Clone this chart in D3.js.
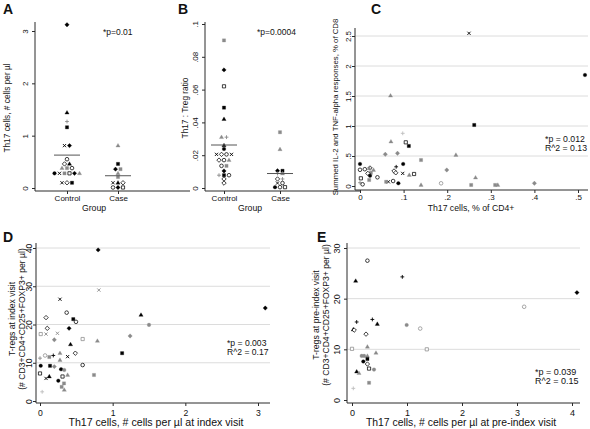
<!DOCTYPE html>
<html><head><meta charset="utf-8">
<script src="https://cdn.jsdelivr.net/npm/d3@7"></script>
<style>
body{margin:0;background:#fff}
svg{display:block}
text{font-family:"Liberation Sans",Arial,Helvetica,sans-serif;fill:#111}
</style>
</head><body>
<svg id="chart" width="590" height="429"></svg>
<script>
// ---------------- DATA ----------------
const groups = ["Control", "Case"];

// Panel A: Th17 cells, # cells per µl
const aControl = [3.12,1.44,1.27,1.16,0.81,0.81,0.55,0.46,0.46,0.38,0.38,0.38,0.28,0.28,0.28,0.28,0.28,0.28,0.10,0.10,0.10];
const aControlSym = ["Df","Tf","Pg","Sf","Xf","Df","Oh","Dh","Tf","Tg","Sg","Oh","Of","Xf","Sg","Sh","Df","Tg","Xf","Dh","Sf"];
const aCase = [0.81,0.46,0.36,0.36,0.28,0.21,0.10,0.10,0.10,0.01,0.01,0.01];
const aCaseSym = ["Tg","Sf","Df","Sg","Tg","Sg","Xf","Tf","Dh","Oh","Df","Sh"];
const aTicks = [0,1,2,3];

// Panel B: Th17 : Treg ratio
const bControl = [0.090,0.072,0.062,0.049,0.042,0.031,0.031,0.026,0.0238,0.0205,0.0205,0.0205,0.0205,0.017,0.017,0.017,0.0135,0.0135,0.0104,0.0078,0.0078,0.0078,0.0055,0.003];
const bControlSym = ["Sg","Df","Sh","Sf","Tf","Tg","Pg","Tf","Of","Xf","Dh","Oh","Xf","Dh","Oh","Tg","Oh","Sg","Df","Pg","Sf","Oh","Dh","Dh"];
const bCase = [0.034,0.0236,0.0105,0.0105,0.0088,0.0088,0.0055,0.0055,0.003,0.003,0.0005,0.0005,0.0005];
const bCaseSym = ["Sg","Tg","Df","Sf","Pg","Tg","Dh","Pg","Xf","Oh","Of","Oh","Sh"];
const bTicks = [0,0.02,0.04,0.06,0.08,0.1];

// Panel C: Th17 % of CD4+ vs summed IL-2 and TNF-alpha responses
const cX = [0.250,0.516,0.070,0.262,0.098,0.071,0.105,0.112,0.058,0.086,0.220,0.140,0.099,0.083,0.199,0.078,0.082,0.098,0.113,0.124,0.265,0.400,0.186,0.140,0.255,0.310,0.316,0.065,0.060,0.076,0.088,0.040,0.025,0.031,0.023,0.000,0.000,0.011,0.021,0.018,0.023,0.002,0.000,0.006,0.021];
const cY = [2.545,1.85,1.505,1.017,0.878,0.74,0.728,0.667,0.528,0.545,0.517,0.433,0.367,0.32,0.267,0.25,0.22,0.21,0.183,0.20,0.14,0.045,0.045,0.017,0.017,0.017,0.017,0.07,0.07,0.083,0.045,0.145,0.22,0.267,0.30,0.367,0.27,0.28,0.295,0.21,0.17,0.128,0.055,0.028,0.10];
const cSym = ["Xf","Of","Tg","Sf","Pl","Tg","Sh","Sf","Dg","Dg","Tg","Sg","Of","Pf","Dg","Dh","Dh","Xf","Tg","Sh","Tg","Dg","Ok","Tg","Sg","Sg","Tg","Xf","Sg","Oh","Of","Oh","Sg","Tg","Dh","Of","Oh","Oh","Tg","Dh","Of","Sh","Pg","Oh","Sg"];
const cXTicks = [0,0.1,0.2,0.3,0.4,0.5];
const cYTicks = [0,0.5,1,1.5,2,2.5];

// Panel D: Th17 at index visit vs T-regs at index visit
const dX = [0.80,0.81,3.10,0.275,0.367,0.083,0.458,0.495,1.39,1.50,0.10,0.40,0.01,0.083,0.24,0.587,1.24,0.197,0.79,0.42,0.486,1.13,0.275,0.0,0.07,0.128,0.183,0.38,0.01,0.138,0.275,0.197,0.587,0.29,0.334,0.0,0.31,0.128,0.083,0.38,0.743,0.252,0.33,0.298,0.334,0.03];
const dY = [39.5,29,24.3,26.6,23.1,21.8,21.4,20.7,22.5,19.9,19.0,19.0,17.5,17.5,17.7,16.2,17.0,16.0,15.7,14.8,12.5,12.5,12.5,11.2,11.9,11.5,11.9,11.6,9.2,9.2,10.7,9.0,9.4,8.3,8.1,7.2,6.4,6.4,5.9,6.8,6.8,5.3,4.6,3.7,2.9,2.4];
const dSym = ["Df","Xg","Df","Xf","Oh","Dh","Sf","Oh","Tf","Og","Dh","Df","Sk","Xg","Xg","Sk","Dg","Dg","Tg","Tf","Dh","Sf","Tg","Pg","Ok","Sg","Pf","Xf","Of","Sf","Tg","Dg","Oh","Of","Og","Sh","Sh","Tf","Xf","Tg","Sg","Of","Sg","Sg","Tg","Pl"];
const dXTicks = [0,1,2,3];
const dYTicks = [0,10,20,30,40];

// Panel E: Th17 at pre-index visit vs T-regs at pre-index visit
const eX = [0.28,0.915,0.067,4.09,3.13,0.37,0.085,0.46,0.994,1.24,0.024,0.04,0.255,0.0,0.28,1.36,0.436,0.176,0.22,0.28,0.206,0.28,0.28,0.31,0.40,0.085,0.127,0.31,0.024];
const eY = [27.5,24.3,23.5,21.2,18.4,15.9,15.4,15.0,14.8,14.1,13.9,13.8,13.0,10.1,10.5,10.0,9.3,8.7,8.7,8.7,7.6,8.1,7.1,6.2,6.0,5.6,5.3,3.4,2.3];
const eSym = ["Oh","Pf","Tf","Df","Ok","Pf","Pf","Tf","Og","Ok","Tf","Dh","Dh","Sk","Tg","Sk","Tg","Og","Og","Tg","Of","Sf","Dh","Sh","Og","Tf","Tg","Sg","Pl"];
const eXTicks = [0,1,2,3,4];
const eYTicks = [0,10,20,30];

// ---------------- DRAWING ----------------
const svg = d3.select("#chart");
svg.append("rect").attr("width",590).attr("height",429).attr("fill","#fff");

const GRAY = "#8a8a8a", LIGHT = "#bdbdbd", AXIS = "#2a2a2a", GRID = "#dcdcdc";
const FONT = '"Liberation Sans",Arial,sans-serif';
const fmt = v => v === 0 ? "0" : d3.format("~g")(v).replace(/^0\./, ".");

function markerPath(shape) {
  const p = d3.path();
  if (shape === "O") { p.arc(0,0,1.8,0,2*Math.PI); }
  else if (shape === "S") { p.rect(-1.6,-1.6,3.2,3.2); }
  else if (shape === "D") { p.moveTo(0,-2.2); p.lineTo(2.2,0); p.lineTo(0,2.2); p.lineTo(-2.2,0); p.closePath(); }
  else if (shape === "T") { p.moveTo(0,-2.2); p.lineTo(2.1,1.4); p.lineTo(-2.1,1.4); p.closePath(); }
  else if (shape === "X") { p.moveTo(-1.6,-1.6); p.lineTo(1.6,1.6); p.moveTo(-1.6,1.6); p.lineTo(1.6,-1.6); }
  else if (shape === "P") { p.moveTo(-1.9,0); p.lineTo(1.9,0); p.moveTo(0,-1.9); p.lineTo(0,1.9); }
  return p.toString();
}
function drawMarker(g, x, y, code) {
  const shape = code[0], st = code[1];
  const col = st === "f" || st === "h" ? "#000" : st === "l" ? LIGHT : GRAY;
  const path = g.append("path").attr("d", markerPath(shape)).attr("transform", `translate(${x},${y})`);
  if (shape === "X" || shape === "P") {
    path.attr("fill","none").attr("stroke",col).attr("stroke-width",0.9);
  } else if (st === "h" || st === "k") {
    path.attr("fill","#fff").attr("stroke",col).attr("stroke-width",0.75);
  } else {
    path.attr("fill",col).attr("stroke",col).attr("stroke-width",0.3);
  }
}

function frame(p) {
  const g = svg.append("g");
  (p.grid || []).forEach(v => {
    g.append("line").attr("x1",p.left+0.5).attr("x2",p.right).attr("y1",p.y(v)).attr("y2",p.y(v))
      .attr("stroke",GRID).attr("stroke-width",1);
  });
  // y axis
  const ya = g.append("g").attr("transform",`translate(${p.left},0)`)
    .call(d3.axisLeft(p.y).tickValues(p.yticks).tickSize(3).tickFormat(fmt));
  ya.select(".domain").remove();
  ya.selectAll(".tick line").attr("stroke",AXIS);
  ya.selectAll("text").attr("x",0).attr("y",-p.ygap).attr("dy",0)
    .attr("transform","rotate(-90)").attr("text-anchor","middle")
    .style("font-size",p.tickFs+"px").style("font-family",FONT).attr("fill","#111");
  // x axis
  const xa = g.append("g").attr("transform",`translate(0,${p.bottom})`)
    .call(d3.axisBottom(p.x).tickValues(p.xticks).tickSize(3).tickFormat(p.xfmt || fmt));
  xa.select(".domain").remove();
  xa.selectAll(".tick line").attr("stroke",AXIS);
  xa.selectAll("text").attr("y",p.xgap).attr("dy",0)
    .style("font-size",p.tickFs+"px").style("font-family",FONT).attr("fill","#111");
  // axis lines
  g.append("line").attr("x1",p.left).attr("x2",p.left).attr("y1",p.top).attr("y2",p.bottom)
    .attr("stroke",AXIS).attr("stroke-width",1);
  g.append("line").attr("x1",p.left).attr("x2",p.right).attr("y1",p.bottom).attr("y2",p.bottom)
    .attr("stroke",AXIS).attr("stroke-width",1);
  // titles
  g.append("text").attr("x",p.xtitleX).attr("y",p.xtitleY).attr("text-anchor","middle")
    .style("font-size",p.xtitleFs+"px").text(p.xtitle);
  p.ytitle.forEach((t,i) => {
    g.append("text").attr("transform",`translate(${p.ytitleX[i]},${p.ytitleCY}) rotate(-90)`)
      .attr("text-anchor","middle").style("font-size", p.ytitleFs+"px").text(t);
  });
  g.append("text").attr("x",p.letterX).attr("y",p.letterY).style("font-size","14px")
    .style("font-weight","bold").attr("fill","#000").text(p.letter);
  p.notes.forEach((t,i) => {
    g.append("text").attr("x",p.noteX).attr("y",p.noteY + i*p.noteFs).style("font-size",p.noteFs+"px").text(t);
  });
  return g;
}

function dotPanel(p, series, syms) {
  const g = frame(p);
  series.forEach((vals, gi) => {
    const cx = p.x(groups[gi]);
    const rows = d3.group(vals.map((v,i)=>({v, s: syms[gi][i]})), d => d.v);
    rows.forEach(items => {
      items.forEach((d,i) => {
        const off = (i - (items.length-1)/2) * p.spacing;
        drawMarker(g, cx + off, p.y(d.v), d.s);
      });
    });
    const m = d3.mean(vals);
    g.append("line").attr("x1",cx-13).attr("x2",cx+13).attr("y1",p.y(m)).attr("y2",p.y(m))
      .attr("stroke","#555").attr("stroke-width",1);
  });
}

function scatterPanel(p, xs, ys, syms) {
  const g = frame(p);
  xs.forEach((xv,i) => drawMarker(g, p.x(xv), p.y(ys[i]), syms[i]));
}

// Panel A
dotPanel({
  left:35, right:190, top:22, bottom:191,
  x: d3.scalePoint().domain(groups).range([67,118]),
  y: d3.scaleLinear().domain([0,3]).range([188,31]),
  xticks: groups, xfmt: d => d, yticks: aTicks, ygap: 7, xgap: 10,
  tickFs: 8, xtitleFs: 8.7, ytitleFs: 8.3, noteFs: 8.5,
  xtitle: "Group", xtitleX: 94, xtitleY: 211,
  ytitle: ["Th17 cells, # cells per \u00b5l"], ytitleX: [10], ytitleCY: 108,
  letter: "A", letterX: 3, letterY: 14,
  notes: ["*p=0.01"], noteX: 103, noteY: 35, spacing: 5
}, [aControl, aCase], [aControlSym, aCaseSym]);

// Panel B
dotPanel({
  left:205, right:360, top:22, bottom:191,
  x: d3.scalePoint().domain(groups).range([224,280]),
  y: d3.scaleLinear().domain([0,0.1]).range([188,24]),
  xticks: groups, xfmt: d => d, yticks: bTicks, ygap: 7, xgap: 10,
  tickFs: 8, xtitleFs: 8.7, ytitleFs: 8.3, noteFs: 8.5,
  xtitle: "Group", xtitleX: 250, xtitleY: 211,
  ytitle: ["Th17 : Treg ratio"], ytitleX: [188], ytitleCY: 108,
  letter: "B", letterX: 178, letterY: 14,
  notes: ["*p=0.0004"], noteX: 257, noteY: 35, spacing: 5
}, [bControl, bCase], [bControlSym, bCaseSym]);

// Panel C
scatterPanel({
  left:355, right:588, top:28, bottom:190,
  x: d3.scaleLinear().domain([0,0.5]).range([360,578]),
  y: d3.scaleLinear().domain([0,2.5]).range([186,36]),
  grid: cYTicks.slice(1), xticks: cXTicks, yticks: cYTicks, ygap: 4, xgap: 10,
  tickFs: 8, xtitleFs: 8.7, ytitleFs: 7.8, noteFs: 8.7,
  xtitle: "Th17 cells, % of CD4+", xtitleX: 471, xtitleY: 211,
  ytitle: ["Summed IL-2 and TNF-alpha responses, % of CD8"], ytitleX: [338], ytitleCY: 107,
  letter: "C", letterX: 371, letterY: 14,
  notes: ["*p = 0.012","R^2 = 0.13"], noteX: 545, noteY: 142
}, cX, cY, cSym);

// Panel D
scatterPanel({
  left:36, right:270, top:243, bottom:403,
  x: d3.scaleLinear().domain([0,3]).range([40,258]),
  y: d3.scaleLinear().domain([0,40]).range([401,248]),
  grid: dYTicks.slice(1), xticks: dXTicks, yticks: dYTicks, ygap: 4, xgap: 12.5,
  tickFs: 8.6, xtitleFs: 10.6, ytitleFs: 8.6, noteFs: 8.6,
  xtitle: "Th17 cells, # cells per \u00b5l at index visit", xtitleX: 156, xtitleY: 426,
  ytitle: ["T-regs at index visit","(# CD3+CD4+CD25+FOXP3+ per \u00b5l)"], ytitleX: [14.5,25], ytitleCY: 319,
  letter: "D", letterX: 3, letterY: 242,
  notes: ["*p = 0.003","R^2 = 0.17"], noteX: 227, noteY: 346
}, dX, dY, dSym);

// Panel E
scatterPanel({
  left:347, right:580, top:243, bottom:403,
  x: d3.scaleLinear().domain([0,4]).range([352,572]),
  y: d3.scaleLinear().domain([0,30]).range([400,248]),
  grid: eYTicks.slice(1), xticks: eXTicks, yticks: eYTicks, ygap: 7.5, xgap: 12.5,
  tickFs: 9, xtitleFs: 10.4, ytitleFs: 8.6, noteFs: 9,
  xtitle: "Th17 cells, # cells per \u00b5l at pre-index visit", xtitleX: 461, xtitleY: 426,
  ytitle: ["T-regs at pre-index visit","(# CD3+CD4+CD25+FOXP3+ per \u00b5l)"], ytitleX: [318.5,328.5], ytitleCY: 315,
  letter: "E", letterX: 317, letterY: 242,
  notes: ["*p = 0.039","R^2 = 0.15"], noteX: 535, noteY: 375
}, eX, eY, eSym);
</script>
</body></html>
